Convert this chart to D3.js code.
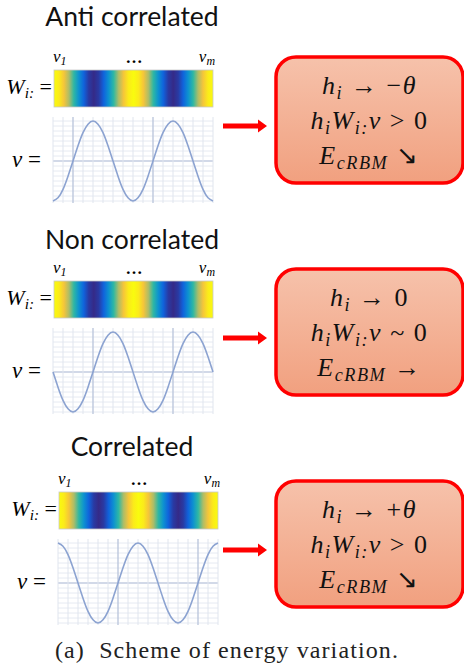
<!DOCTYPE html>
<html>
<head>
<meta charset="utf-8">
<script src="https://d3js.org/d3.v7.min.js"></script>
<style>
  body { margin: 0; background: #fff; }
  text { white-space: pre; }
</style>
</head>
<body>
<div id="chart"></div>
<script>
// Panel titles
var panelTitles = ["Anti correlated", "Non correlated", "Correlated"];

// Weight row W_i: (0 = dark blue, 1 = yellow), 33 samples across the bar
var weightValues = [1.00, 0.96, 0.85, 0.69, 0.50, 0.31, 0.15, 0.04, 0.00, 0.04, 0.15, 0.31, 0.50, 0.69, 0.85, 0.96,
                    1.00, 0.96, 0.85, 0.69, 0.50, 0.31, 0.15, 0.04, 0.00, 0.04, 0.15, 0.31, 0.50, 0.69, 0.85, 0.96, 1.00];

// Visible signal v, 33 samples read every half grid step
var signalAnti = [-1.00, -0.92, -0.71, -0.38, 0.00, 0.38, 0.71, 0.92, 1.00, 0.92, 0.71, 0.38, 0.00, -0.38, -0.71, -0.92,
                  -1.00, -0.92, -0.71, -0.38, 0.00, 0.38, 0.71, 0.92, 1.00, 0.92, 0.71, 0.38, 0.00, -0.38, -0.71, -0.92, -1.00];
var signalNon = [0.00, -0.38, -0.71, -0.92, -1.00, -0.92, -0.71, -0.38, 0.00, 0.38, 0.71, 0.92, 1.00, 0.92, 0.71, 0.38,
                 0.00, -0.38, -0.71, -0.92, -1.00, -0.92, -0.71, -0.38, 0.00, 0.38, 0.71, 0.92, 1.00, 0.92, 0.71, 0.38, 0.00];
var signalCorr = [1.00, 0.92, 0.71, 0.38, 0.00, -0.38, -0.71, -0.92, -1.00, -0.92, -0.71, -0.38, 0.00, 0.38, 0.71, 0.92,
                  1.00, 0.92, 0.71, 0.38, 0.00, -0.38, -0.71, -0.92, -1.00, -0.92, -0.71, -0.38, 0.00, 0.38, 0.71, 0.92, 1.00];

// Major vertical grid lines of each plot (grid units, 0..16)
var majorTicksX = [[2, 10], [4, 12], [6, 14]];

// Box statements: [text, kind]  kind: i = italic, s = subscript, n = normal
var boxLines = [
  [[["h", "i"], ["i", "s"], [" → −", "n"], ["θ", "i"]],
   [["h", "i"], ["i", "s"], ["W", "i"], ["i:", "s"], ["v", "i"], [" > 0", "n"]],
   [["E", "i"], ["cRBM", "s"], [" ↘", "n"]]],
  [[["h", "i"], ["i", "s"], [" → 0", "n"]],
   [["h", "i"], ["i", "s"], ["W", "i"], ["i:", "s"], ["v", "i"], [" ~ 0", "n"]],
   [["E", "i"], ["cRBM", "s"], [" →", "n"]]],
  [[["h", "i"], ["i", "s"], [" → +", "n"], ["θ", "i"]],
   [["h", "i"], ["i", "s"], ["W", "i"], ["i:", "s"], ["v", "i"], [" > 0", "n"]],
   [["E", "i"], ["cRBM", "s"], [" ↘", "n"]]]
];

var caption = "(a)  Scheme of energy variation.";

var signals = [signalAnti, signalNon, signalCorr];

var width = 464, height = 669;
var mathFont = "Liberation Serif, Times New Roman, serif";

var svg = d3.select("#chart").append("svg")
    .attr("width", width)
    .attr("height", height);

// parula-like colour map
var parula = d3.scaleLinear()
    .domain([0, 0.125, 0.25, 0.375, 0.5, 0.625, 0.75, 0.875, 1])
    .range(["#352a87", "#0f5cdd", "#1481d6", "#06a4ca", "#2eb7a4", "#87bf77", "#d1bb59", "#fec832", "#f9fb0e"])
    .interpolate(d3.interpolateRgb);

var defs = svg.append("defs");
var wgrad = defs.append("linearGradient").attr("id", "wgrad");
wgrad.selectAll("stop")
    .data(weightValues)
    .enter().append("stop")
    .attr("offset", function(d, k) { return (k / (weightValues.length - 1) * 100) + "%"; })
    .attr("stop-color", function(d) { return parula(d); });

var boxGrad = defs.append("linearGradient").attr("id", "boxgrad")
    .attr("x1", 0).attr("y1", 0).attr("x2", 0).attr("y2", 1);
boxGrad.append("stop").attr("offset", "0%").attr("stop-color", "#f6c2ab");
boxGrad.append("stop").attr("offset", "100%").attr("stop-color", "#f1a07f");

// appends italic / subscript pieces of one math line into a text element
function addMathLine(t, segments, size, x, y) {
  var down = false, drop = size * 0.2;
  segments.forEach(function(seg, k) {
    var sp = t.append("tspan").text(seg[0]);
    if (k === 0) sp.attr("x", x).attr("y", y);
    if (seg[1] === "s") {
      sp.attr("font-size", size * 0.7).attr("font-style", "italic");
      if (!down) { sp.attr("dy", drop); down = true; }
    } else {
      if (down) { sp.attr("dy", -drop); down = false; }
      sp.attr("font-style", seg[1] === "i" ? "italic" : "normal");
    }
  });
}

function mathText(sel, segments, size, x, y, anchor) {
  var t = sel.append("text")
      .attr("font-family", mathFont)
      .attr("font-size", size)
      .attr("text-anchor", anchor || "start");
  addMathLine(t, segments, size, x, y);
  return t;
}

// layout
var panelStep = 211;
var panelDx = [0, 0, 5];
var titleY = [26, 249, 456];
var boxTop = [57, 269, 481];

panelTitles.forEach(function(title, i) {
  svg.append("text")
      .attr("x", 132)
      .attr("y", titleY[i])
      .attr("text-anchor", "middle")
      .attr("font-family", "Lato, 'Open Sans', sans-serif")
      .attr("font-size", 26.5)
      .attr("fill", "#111")
      .text(title);

  var g = svg.append("g")
      .attr("transform", "translate(" + panelDx[i] + "," + (i * panelStep) + ")");

  var x = d3.scaleLinear().domain([0, 16]).range([53, 213]);
  var y = d3.scaleLinear().domain([-1, 1]).range([201, 121]);

  // v_1 ... v_m labels
  mathText(g, [["v", "i"], ["1", "s"]], 17, 53, 62);
  g.append("text").attr("x", 134).attr("y", 63)
      .attr("text-anchor", "middle")
      .attr("font-family", mathFont).attr("font-weight", "bold").attr("font-size", 17)
      .text("…");
  mathText(g, [["v", "i"], ["m", "s"]], 17, 215, 62, "end");

  // W_i: colour bar
  mathText(g, [["W", "i"], ["i:", "s"], [" =", "n"]], 22, 52, 94, "end");
  g.append("rect")
      .attr("x", x(0) + 1).attr("y", 70)
      .attr("width", x(16) - x(0) - 1).attr("height", 37)
      .attr("fill", "url(#wgrad)")
      .attr("stroke", "#c8c8c8").attr("stroke-width", 0.8);

  // v plot
  mathText(g, [["v", "i"], [" =", "n"]], 23, 41, 167, "end");
  var plot = g.append("g");
  var yTop = 1.1, yBot = -1.05;
  plot.append("rect")
      .attr("x", x(0)).attr("y", y(yTop))
      .attr("width", x(16) - x(0)).attr("height", y(yBot) - y(yTop))
      .attr("fill", "#fff");
  plot.selectAll(".hminor")
      .data(d3.range(-1, yTop + 0.001, 0.125))
      .enter().append("line")
      .attr("x1", x(0)).attr("x2", x(16))
      .attr("y1", function(d) { return y(d); }).attr("y2", function(d) { return y(d); })
      .attr("stroke", function(d) { return d === 0 ? "#c3cde0" : "#e6eaf2"; })
      .attr("stroke-width", function(d) { return d === 0 ? 1.3 : 1; });
  plot.selectAll(".vminor")
      .data(x.ticks(16))
      .enter().append("line")
      .attr("x1", function(d) { return x(d); }).attr("x2", function(d) { return x(d); })
      .attr("y1", y(yTop)).attr("y2", y(yBot))
      .attr("stroke", function(d) { return majorTicksX[i].indexOf(d) >= 0 ? "#bdc8dd" : "#e0e5ee"; })
      .attr("stroke-width", function(d) { return majorTicksX[i].indexOf(d) >= 0 ? 1.4 : 1; });

  var line = d3.line()
      .x(function(d, k) { return x(k * 16 / (signals[i].length - 1)); })
      .y(function(d) { return y(d); })
      .curve(d3.curveNatural);
  plot.append("path")
      .datum(signals[i])
      .attr("d", line)
      .attr("fill", "none")
      .attr("stroke", "#8ca3d1")
      .attr("stroke-width", 1.6);

  // arrow
  var ay = boxTop[i] + 69;
  svg.append("path")
      .attr("d", "M223," + (ay - 2.5) + "H258V" + (ay - 6.5) + "L267," + ay + "L258," + (ay + 6.5) + "V" + (ay + 2.5) + "H223Z")
      .attr("fill", "#ff0000");

  // statement box
  var bx = 276, bw = 187, bh = 126;
  svg.append("rect")
      .attr("x", bx).attr("y", boxTop[i])
      .attr("width", bw).attr("height", bh)
      .attr("rx", 20).attr("ry", 20)
      .attr("fill", "url(#boxgrad)")
      .attr("stroke", "#ff0000")
      .attr("stroke-width", 3.5);
  var lineY = [37, 72, 107];
  var bt = svg.append("text")
      .attr("font-family", mathFont)
      .attr("font-size", 26)
      .attr("text-anchor", "middle")
      .attr("letter-spacing", 1.5)
      .attr("fill", "#111");
  boxLines[i].forEach(function(segs, j) {
    addMathLine(bt, segs, 26, bx + bw / 2, boxTop[i] + lineY[j]);
  });
});

svg.append("text")
    .attr("x", 227)
    .attr("y", 658)
    .attr("text-anchor", "middle")
    .attr("font-family", "Liberation Serif, serif")
    .attr("font-size", 24)
    .attr("letter-spacing", 1.1)
    .attr("fill", "#222")
    .text(caption);
</script>
</body>
</html>
